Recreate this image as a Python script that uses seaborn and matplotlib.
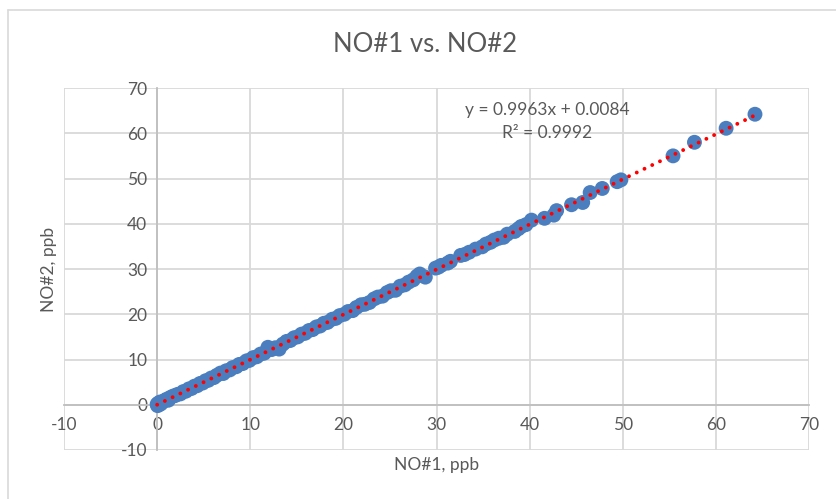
import numpy as np
import pandas as pd
import seaborn as sns
import matplotlib.pyplot as plt
from matplotlib.lines import Line2D

# NO#1 vs NO#2 readings, ppb
no1 = [0.0, 0.05, 0.1, 0.2, 0.3, 0.4, 0.6, 0.8, 1.0, 1.2, 1.4, 1.7, 1.9, 2.2, 2.5,
       2.8, 3.1, 3.4, 3.7, 4.0, 4.3, 4.6, 4.9, 5.2, 5.5, 5.8, 6.1, 6.4, 6.8, 7.1,
       7.4, 7.8, 8.1, 8.5, 8.8, 9.2, 9.6, 9.9, 10.3, 10.7, 11.1, 11.5, 11.9, 12.3,
       12.7, 13.1, 13.5, 13.9, 14.3, 14.7, 15.1, 15.5, 15.9, 16.3, 16.7, 17.1, 17.5,
       17.9, 18.3, 18.8, 19.2, 19.6, 20.1, 20.5, 21.0, 21.4, 21.9, 22.3, 22.8, 23.3,
       23.7, 24.2, 24.7, 25.1, 25.6, 26.1, 26.6, 27.0, 27.5, 27.9, 28.2, 28.8, 29.9,
       30.2, 30.5, 31.2, 31.5, 32.6, 33.0, 33.5, 34.2, 34.9, 35.3, 35.8, 36.2, 36.7,
       37.2, 37.6, 38.4, 38.8, 39.1, 39.6, 40.2, 41.6, 42.6, 42.9, 44.5, 45.7, 46.5,
       47.8, 49.4, 49.8, 55.4, 57.7, 61.1, 64.2]
no2 = [0.1, -0.2, 0.3, 0.0, 0.6, 0.2, 0.7, 0.9, 1.2, 1.0, 1.6, 1.9, 2.0, 2.3, 2.4,
       2.9, 3.0, 3.5, 3.6, 4.1, 4.2, 4.7, 4.8, 5.3, 5.4, 5.9, 6.0, 6.5, 7.0, 6.9,
       7.5, 7.7, 8.2, 8.4, 8.9, 9.1, 9.7, 9.8, 10.4, 10.6, 11.2, 11.4, 12.7, 12.2,
       12.6, 12.3, 13.4, 14.0, 14.2, 14.8, 15.0, 15.6, 15.8, 16.4, 16.6, 17.2, 17.4,
       18.0, 18.2, 18.9, 19.1, 19.7, 20.0, 20.6, 20.8, 21.5, 22.1, 22.2, 22.6, 23.4,
       23.8, 24.0, 24.8, 25.2, 25.3, 26.2, 26.5, 27.1, 27.6, 28.4, 28.9, 28.2, 30.2,
       30.4, 30.8, 31.3, 31.7, 33.0, 33.2, 33.7, 34.4, 34.9, 35.5, 35.9, 36.4, 36.8,
       37.0, 37.7, 38.3, 38.9, 39.4, 39.8, 40.8, 41.2, 41.9, 42.9, 44.2, 44.7, 46.9,
       47.8, 49.3, 49.7, 55.0, 58.0, 61.1, 64.2]

slope = 0.9963
intercept = 0.0084
eq_text = "y = 0.9963x + 0.0084"
r2_text = "R² = 0.9992"

df = pd.DataFrame({"NO#1": no1, "NO#2": no2})

sns.set_style("white")
plt.rcParams['font.family'] = ['Lato', 'DejaVu Sans']
plt.rcParams['axes.unicode_minus'] = False

txt = '#595959'
grid_c = '#D9D9D9'
axis_c = '#BFBFBF'

fig = plt.figure(figsize=(8.36, 4.99), dpi=100)
ax = fig.add_axes([64/836, 1-450/499, 745/836, 362/499])

sns.scatterplot(data=df, x="NO#1", y="NO#2", ax=ax, color='#4A7EBF', s=115,
                edgecolor='none', zorder=3)

# linear trendline
xs = np.array([min(no1), max(no1)])
ax.plot(xs, slope*xs + intercept, color='red', lw=2.8,
        linestyle=(0, (0.01, 2.2)), dash_capstyle='round', zorder=4)

ax.set_xlim(-10, 70)
ax.set_ylim(-10, 70)
ax.set_xticks(range(-10, 71, 10))
ax.set_yticks(range(-10, 71, 10))
ax.grid(True, color=grid_c, lw=1.3, zorder=0)
ax.set_axisbelow(True)

for s in ['top', 'right']:
    ax.spines[s].set_visible(False)
ax.spines['left'].set_position(('data', 0))
ax.spines['bottom'].set_position(('data', 0))
ax.spines['left'].set_color(axis_c)
ax.spines['bottom'].set_color(axis_c)
ax.spines['left'].set_linewidth(1.3)
ax.spines['bottom'].set_linewidth(1.3)

ax.tick_params(axis='x', length=0, pad=9, labelsize=12.5, labelcolor=txt)
ax.tick_params(axis='y', length=4, color=axis_c, pad=3, labelsize=12.5, labelcolor=txt)

ax.set_xlabel("NO#1, ppb", fontsize=12.5, color=txt)
ax.set_ylabel("NO#2, ppb", fontsize=12.5, color=txt)
ax.xaxis.set_label_coords(0.5, -0.02)
ax.yaxis.set_label_coords(-0.01, 0.5)

ax.text(41.9, 65.2, eq_text, ha='center', va='center', fontsize=12.5, color=txt)
ax.text(41.9, 60.0, r2_text, ha='center', va='center', fontsize=12.5, color=txt)

fig.text(425/836, 1-45/499, "NO#1 vs. NO#2", ha='center', va='center',
         fontsize=18.5, color=txt)

# chart area border (left and top edges)
fig.add_artist(Line2D([8/836, 1], [1-10/499, 1-10/499], color=grid_c, lw=1.2))
fig.add_artist(Line2D([8/836, 8/836], [0, 1-10/499], color=grid_c, lw=1.2))

fig.savefig("out.png", dpi=100)
